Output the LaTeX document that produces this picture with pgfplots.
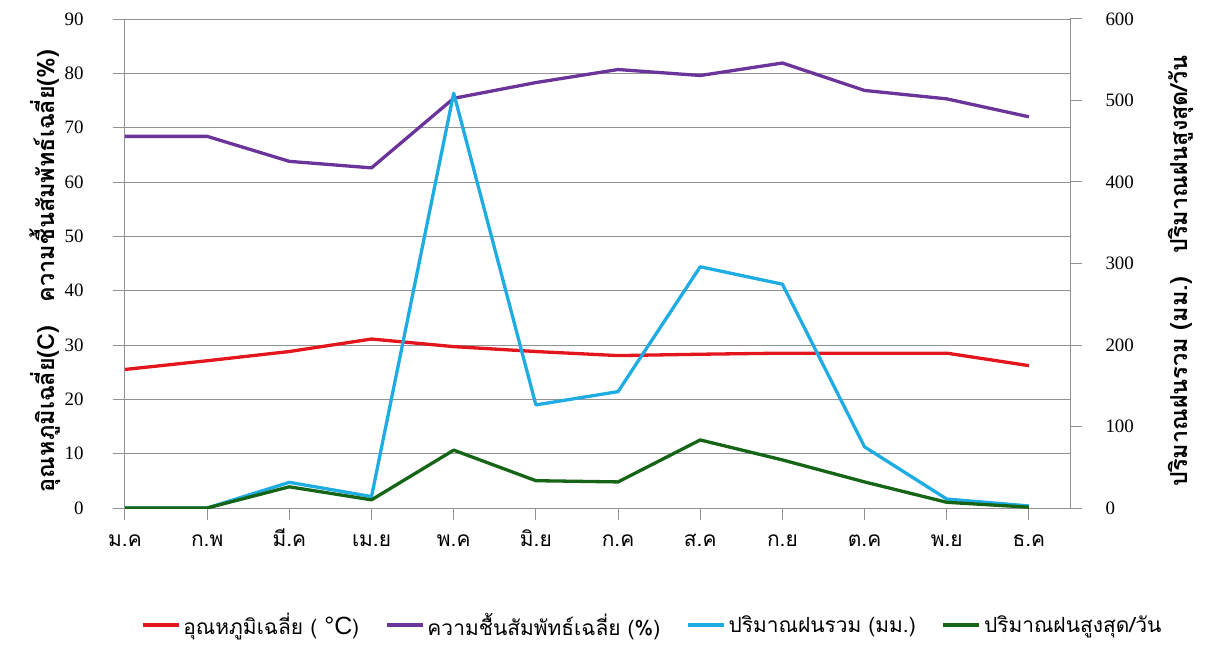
\documentclass[border=0pt]{standalone}
\usepackage{fontspec}
\setmainfont{Liberation Serif}
\newfontfamily\thaifont[Script=Thai]{Loma}
\newfontfamily\degfont{Liberation Sans}
\usepackage{pgfplots}
\pgfplotsset{compat=1.18}
\definecolor{cred}{RGB}{226,22,28}
\definecolor{cpurple}{RGB}{106,52,154}
\definecolor{cblue}{RGB}{30,172,226}
\definecolor{cgreen}{RGB}{22,100,22}
\definecolor{caxis}{RGB}{145,145,145}
\begin{document}
\begin{tikzpicture}
\pgfplotsset{
  common/.style={
    scale only axis, width=945bp, height=489bp,
    at={(0,0)}, anchor=south west,
    xmin=0, xmax=11.5,
    axis line style={draw=caxis, line width=1bp},
    tick style={draw=caxis, line width=1bp},
    tick align=outside,
    major tick length=12bp,
    /pgf/number format/assume math mode=true,
    tick label style={font=\fontsize{19}{19}\selectfont},
    every axis plot/.append style={line width=3.3bp, mark=none, line join=round},
  }
}
\begin{axis}[common,
  axis x line*=bottom, axis y line*=left,
  ymin=0, ymax=90, ytick={0,10,...,90},
  ymajorgrids, grid style={draw=caxis, line width=1bp},
  xtick={0,...,11},
  xticklabels={ม.ค, ก.พ, มี.ค, เม.ย, พ.ค, มิ.ย, ก.ค, ส.ค, ก.ย, ต.ค, พ.ย, ธ.ค},
  xticklabel style={font=\thaifont\fontsize{21}{21}\selectfont, text height=13bp, text depth=3bp, anchor=north, yshift=-10bp},
  yticklabel style={xshift=-26bp},
  ylabel={\thaifont\bfseries\fontsize{23.5}{23.5}\selectfont อุณหภูมิเฉลี่ย(C)\quad ความชื้นสัมพัทธ์เฉลี่ย(\%)},
  ylabel style={at={(axis description cs:-0.0847,0.485)}, anchor=center},
]
\addplot[cred] coordinates {(0,25.5) (1,27.1) (2,28.8) (3,31.1) (4,29.7) (5,28.8) (6,28.05) (7,28.3) (8,28.5) (9,28.5) (10,28.5) (11,26.2)};
\addplot[cpurple] coordinates {(0,68.4) (1,68.4) (2,63.8) (3,62.6) (4,75.4) (5,78.3) (6,80.7) (7,79.6) (8,81.9) (9,76.85) (10,75.3) (11,72.0)};
\end{axis}
\begin{axis}[common,
  axis x line=none, axis y line*=right,
  ymin=0, ymax=600, ytick={0,100,...,600},
  yticklabel style={xshift=20bp},
  ylabel={\thaifont\bfseries\fontsize{23.5}{23.5}\selectfont ปริมาณฝนรวม (มม.)\quad ปริมาณฝนสูงสุด/วัน},
  ylabel style={at={(axis description cs:1.117,0.485)}, anchor=center},
  legend style={at={(axis description cs:0.558,-0.239)}, anchor=center, draw=none, fill=none,
    legend columns=4, font=\thaifont\fontsize{21}{21}\selectfont,
    /tikz/every even column/.append style={column sep=24bp},
    /tikz/every odd column/.append style={column sep=1bp}},
  legend image code/.code={\draw[#1] (0bp,0bp) -- (36bp,0bp);},
]
\addlegendimage{cred, line width=3.3bp}
\addlegendentry{อุณหภูมิเฉลี่ย ( {\degfont\fontsize{25}{25}\selectfont °C})}
\addlegendimage{cpurple, line width=3.3bp}
\addlegendentry{ความชื้นสัมพัทธ์เฉลี่ย (\%)}
\addplot[cblue] coordinates {(0,0) (1,0) (2,31.5) (3,14) (4,509) (5,126.5) (6,142.8) (7,296) (8,274.6) (9,75) (10,11) (11,2.5)};
\addlegendentry{ปริมาณฝนรวม (มม.)}
\addplot[cgreen] coordinates {(0,0) (1,0) (2,26) (3,10) (4,71) (5,33.5) (6,32) (7,83.5) (8,59) (9,32) (10,7) (11,1)};
\addlegendentry{ปริมาณฝนสูงสุด/วัน}
\end{axis}
\pgfresetboundingbox
\path[use as bounding box] (-125bp,-140bp) rectangle (1081bp,508bp);
\end{tikzpicture}
\end{document}
